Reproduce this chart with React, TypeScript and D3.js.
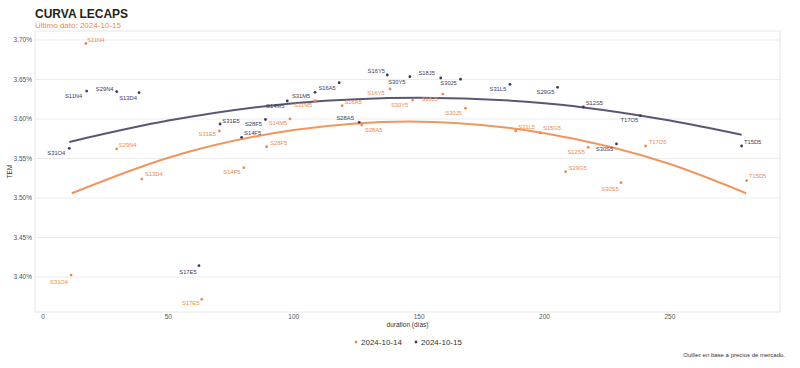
import React from "react";
import * as d3 from "d3";

const seriesNames = ["2024-10-14", "2024-10-15"];
const seriesColors = ["#ef8a4c", "#3c3a5c"];

// 2024-10-15 (dark)
const darkTickers = ["S31O4","S11N4","S29N4","S13D4","S17E5","S31E5","S14F5","S28F5","S14M5","S31M5","S16A5","S28A5","S16Y5","S30Y5","S18J5","S30J5","S31L5","S29G5","S12S5","S30S5","T17O5","T15D5"];
const darkDuration = [10.5,17.4,29.4,38.3,62.2,70.6,79.2,88.7,97.4,108.5,118.1,126.1,137.3,146.3,158.6,166.5,186.2,205.2,215.5,228.7,238.2,278.6];
const darkTem = [3.5629,3.6354,3.6346,3.6333,3.4143,3.5937,3.5768,3.5994,3.6228,3.6338,3.6459,3.5958,3.6557,3.6535,3.6519,3.6503,3.6439,3.6401,3.6152,3.5684,3.6044,3.5658];

// 2024-10-14 (orange)
const orangeTickers = ["S31O4","S11N4","S29N4","S13D4","S17E5","S31E5","S14F5","S28F5","S14M5","S31M5","S16A5","S28A5","S16Y5","S30Y5","S18J5","S30J5","S31L5","S15G5","S29G5","S12S5","S30S5","T17O5","T15D5"];
const orangeDuration = [11.2,17.1,29.4,39.4,63.3,70.3,80.1,89.2,98.5,108.5,119.3,127.1,138.4,147.4,159.4,168.5,188.5,198.2,208.4,217.4,230.5,240.3,280.6];
const orangeTem = [3.4025,3.6956,3.562,3.524,3.3718,3.5848,3.5384,3.5649,3.600,3.6232,3.6168,3.5924,3.638,3.624,3.6316,3.6135,3.5848,3.5827,3.5333,3.5642,3.5194,3.5658,3.5219];

// fitted curves
const darkFitDays = [10.5,50,100,150,200,250,278.6];
const darkFitTem = [3.571,3.598,3.620,3.627,3.620,3.598,3.580];
const orangeFitDays = [11.5,50,100,146,200,250,280.4];
const orangeFitTem = [3.506,3.551,3.586,3.597,3.582,3.543,3.506];

const yTicks = [3.40,3.45,3.50,3.55,3.60,3.65,3.70];
const xTicks = [0,50,100,150,200,250];

// label offsets (px) for repelled labels
const darkLabelOffsets: [number, number][] = [[-13,5],[-13,5],[-12,-3],[-11,5],[-11,6],[11,-3],[11,-4],[-12,4],[-12,5],[-14,4],[-12,5],[-14,-4],[-11,-4],[-13,5],[-14,-5],[-12,4],[-12,5],[-12,5],[11,-4],[-12,5],[-11,4.5],[11,-4]];
const orangeLabelOffsets: [number, number][] = [[-12,7],[10,-4],[11,-4],[12,-5],[-11,4],[-12,3],[-12,4],[12,-4],[-12,4],[-12,4],[11,-4],[12,5],[-14,4],[-13,5],[-13,5],[-12,5],[11,-4],[12,-5],[12,-4],[-12,5],[-11,6],[12,-4],[11,-5]];

const W = 800, H = 368;
const M = { left: 35, right: 780, top: 31, bottom: 312 };
const FONT = "'Liberation Sans', Arial, sans-serif";

export default function App() {
  const x = d3.scaleLinear().domain([-3.19, 293.9]).range([M.left, M.right]);
  const y = d3.scaleLinear().domain([3.3557, 3.7114]).range([M.bottom, M.top]);
  const line = d3.line<[number, number]>().x(d => x(d[0])).y(d => y(d[1])).curve(d3.curveMonotoneX);

  const series = [
    { tickers: orangeTickers, dur: orangeDuration, tem: orangeTem, off: orangeLabelOffsets, fitD: orangeFitDays, fitT: orangeFitTem, color: seriesColors[0] },
    { tickers: darkTickers, dur: darkDuration, tem: darkTem, off: darkLabelOffsets, fitD: darkFitDays, fitT: darkFitTem, color: seriesColors[1] },
  ];

  return (
    <svg width={W} height={H} style={{ position: "absolute", left: 0, top: 0, background: "#fff" }} fontFamily={FONT}>
      <text x={35} y={18} fontSize={12} fontWeight="bold" fill="#222">CURVA LECAPS</text>
      <text x={35} y={28} fontSize={8} fill={seriesColors[0]}>Último dato: 2024-10-15</text>

      <rect x={M.left} y={M.top} width={M.right - M.left} height={M.bottom - M.top} fill="none" stroke="#e6e6e6" strokeWidth={1} />
      {yTicks.map(t => (
        <g key={t}>
          <line x1={M.left} x2={M.right} y1={y(t)} y2={y(t)} stroke="#ebebeb" strokeWidth={1} />
          <text x={32} y={y(t)} dy="0.35em" textAnchor="end" fontSize={6.5} fill="#555">{d3.format(".2f")(t) + "%"}</text>
        </g>
      ))}
      {xTicks.map(t => (
        <text key={t} x={x(t)} y={319} textAnchor="middle" fontSize={6.5} fill="#555">{t}</text>
      ))}
      <text x={(M.left + M.right) / 2} y={327} textAnchor="middle" fontSize={6.5} fill="#333">duration (días)</text>
      <text transform={`translate(12,${(M.top + M.bottom) / 2}) rotate(-90)`} textAnchor="middle" fontSize={6.5} fill="#333">TEM</text>

      {series.map((s, si) => (
        <path key={"fit" + si} d={line(s.fitD.map((d, i) => [d, s.fitT[i]] as [number, number])) || ""} fill="none" stroke={s.color} strokeWidth={2} strokeOpacity={si === 0 ? 0.9 : 0.85} />
      ))}
      {series.map((s, si) => (
        <g key={"pts" + si}>
          {s.dur.map((d, i) => (
            <g key={i}>
              <circle cx={x(d)} cy={y(s.tem[i])} r={1.4} fill={s.color} />
              <text x={x(d) + s.off[i][0]} y={y(s.tem[i]) + s.off[i][1]} dy="0.35em" textAnchor="middle" fontSize={5.8} fill={s.color}>{s.tickers[i]}</text>
            </g>
          ))}
        </g>
      ))}

      <g transform="translate(356,342)">
        <circle cx={0} cy={0} r={1.4} fill={seriesColors[0]} />
        <text x={5} y={0} dy="0.35em" fontSize={8} fill="#333">{seriesNames[0]}</text>
        <circle cx={60} cy={0} r={1.4} fill={seriesColors[1]} />
        <text x={65} y={0} dy="0.35em" fontSize={8} fill="#333">{seriesNames[1]}</text>
      </g>
      <text x={785} y={357} textAnchor="end" fontSize={6} fill="#333">Outlier en base a precios de mercado.</text>
    </svg>
  );
}
